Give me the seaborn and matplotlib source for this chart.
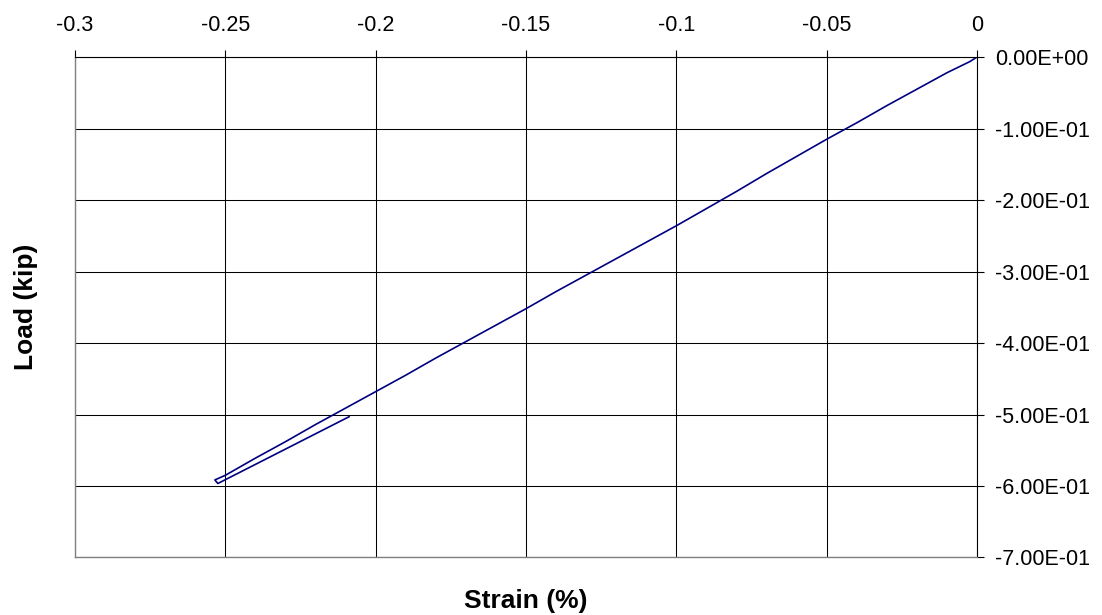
import matplotlib
matplotlib.use("Agg")
import matplotlib.pyplot as plt
import seaborn as sns
import pandas as pd
from matplotlib.ticker import FuncFormatter

# Loading branch: strain (%) vs load (kip), from origin to peak compression
strain_load = [0.0, -0.0023, -0.01, -0.02, -0.03, -0.04, -0.05, -0.06, -0.07,
               -0.08, -0.09, -0.10, -0.11, -0.12, -0.13, -0.14, -0.15, -0.16,
               -0.17, -0.18, -0.19, -0.20, -0.21, -0.22, -0.23, -0.24, -0.25,
               -0.2535]
load_load = [0.0, -0.0062, -0.022, -0.045, -0.068, -0.092, -0.115, -0.139,
             -0.163, -0.188, -0.212, -0.236, -0.259, -0.282, -0.305, -0.328,
             -0.352, -0.375, -0.398, -0.421, -0.445, -0.468, -0.491, -0.514,
             -0.538, -0.561, -0.585, -0.5915]

# Unloading branch back from the peak
strain_unload = [-0.2525, -0.2088]
load_unload = [-0.5965, -0.503]

x_ticks = [-0.3, -0.25, -0.2, -0.15, -0.1, -0.05, 0.0]
y_ticks = [0.0, -0.1, -0.2, -0.3, -0.4, -0.5, -0.6, -0.7]

df = pd.DataFrame({
    "strain": strain_load + strain_unload,
    "load": load_load + load_unload,
})

sns.set_theme(style="white")
plt.rcParams["font.family"] = ["Liberation Sans", "DejaVu Sans"]
plt.rcParams["text.color"] = "black"
plt.rcParams["axes.labelcolor"] = "black"
plt.rcParams["xtick.color"] = "black"
plt.rcParams["ytick.color"] = "black"

fig = plt.figure(figsize=(11.02, 6.15), dpi=100)
ax = fig.add_axes([0.0681, 0.0935, 0.8185, 0.8138])

sns.lineplot(data=df, x="strain", y="load", sort=False, estimator=None,
             color="#000080", linewidth=1.2, ax=ax)

ax.set_xlim(-0.3, 0.0)
ax.set_ylim(-0.7, 0.0)
ax.set_xticks(x_ticks)
ax.set_yticks(y_ticks)
ax.xaxis.set_major_formatter(FuncFormatter(lambda v, p: f"{v:g}" if abs(v) > 1e-12 else "0"))
ax.yaxis.set_major_formatter(FuncFormatter(lambda v, p: f"{v:.2E}" if abs(v) > 1e-12 else "0.00E+00"))

ax.xaxis.tick_top()
ax.yaxis.tick_right()
ax.xaxis.set_label_position("bottom")
ax.yaxis.set_label_position("left")

ax.tick_params(axis="x", which="major", direction="out", length=5, width=0.8,
               colors="black", labelsize=15.5, pad=10, top=True, bottom=False)
ax.tick_params(axis="y", which="major", direction="out", length=5, width=0.8,
               colors="black", labelsize=15.5, pad=8, right=True, left=False)

ax.grid(True, color="black", linewidth=0.75)
ax.set_axisbelow(True)

for side in ("top", "right"):
    ax.spines[side].set_color("black")
    ax.spines[side].set_linewidth(0.8)
for side in ("left", "bottom"):
    ax.spines[side].set_color("#808080")
    ax.spines[side].set_linewidth(1.0)

ax.set_xlabel("Strain (%)", fontsize=19, fontweight="bold", labelpad=23,
              color="black")
ax.set_ylabel("Load (kip)", fontsize=19, fontweight="bold", labelpad=27,
              color="black")

fig.savefig("out.png", dpi=100, facecolor="white")
